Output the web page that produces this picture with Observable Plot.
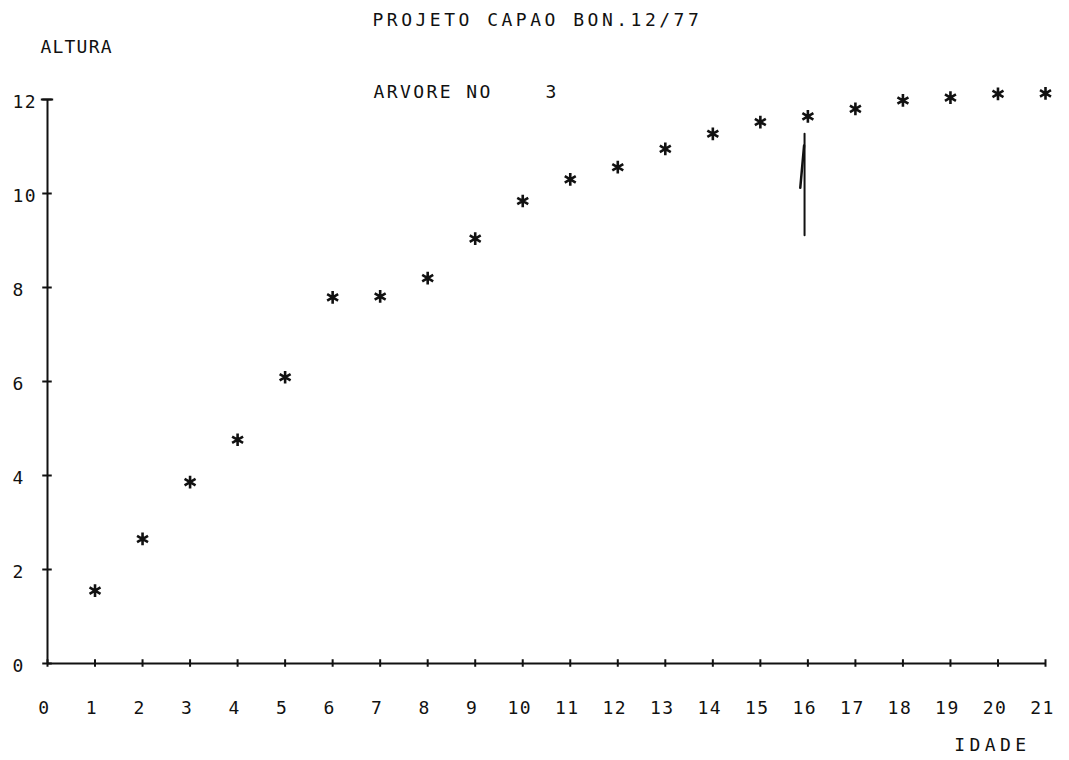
<!DOCTYPE html>
<html>
<head>
<meta charset="utf-8">
<script src="https://cdn.jsdelivr.net/npm/d3@7"></script>
<script src="https://cdn.jsdelivr.net/npm/@observablehq/plot@0.6"></script>
<style>
  html, body { margin: 0; padding: 0; background: #fff; }
  #chart svg { display: block; }
</style>
</head>
<body>
<div id="chart"></div>
<script>
// ---- data ----
const idade = [1, 2, 3, 4, 5, 6, 7, 8, 9, 10, 11, 12, 13, 14, 15, 16, 17, 18, 19, 20, 21];
const altura = [1.55, 2.65, 3.86, 4.76, 6.09, 7.79, 7.81, 8.20, 9.04, 9.84, 10.30, 10.56,
                10.95, 11.27, 11.52, 11.64, 11.80, 11.98, 12.04, 12.12, 12.13];
const xTicks = [0, 1, 2, 3, 4, 5, 6, 7, 8, 9, 10, 11, 12, 13, 14, 15, 16, 17, 18, 19, 20, 21];
const yTicks = [0, 2, 4, 6, 8, 10, 12];
// hand-drawn arrow near age 16 (shaft and half barb)
const arrowShaftX = [15.93, 15.93];
const arrowShaftY = [9.11, 11.27];
const arrowBarbX = [15.84, 15.92];
const arrowBarbY = [10.12, 11.02];
const titleText = "PROJETO CAPAO BON.12/77";
const subtitleText = "ARVORE NO\u00a0\u00a0\u00a0\u00a03";
const yLabelText = "ALTURA";
const xLabelText = "IDADE";

const points = idade.map((x, i) => ({x, y: altura[i]}));
const font = "'DejaVu Sans Mono', 'Liberation Mono', monospace";

const chart = Plot.plot({
  width: 1069,
  height: 760,
  marginLeft: 47,
  marginRight: 24,
  marginTop: 99,
  marginBottom: 97,
  style: {background: "#fff", color: "#111", fontFamily: font},
  x: {domain: [0, 21], axis: null},
  y: {domain: [0, 12], axis: null},
  marks: [
    // axis lines
    Plot.ruleY([0], {stroke: "#111", strokeWidth: 2}),
    Plot.ruleX([0], {stroke: "#111", strokeWidth: 2}),
    // crossing ticks
    Plot.ruleX(xTicks, {x: d => d, y1: -0.08, y2: 0.08, stroke: "#111", strokeWidth: 2}),
    Plot.ruleY(yTicks, {y: d => d, x1: -0.1, x2: 0.1, stroke: "#111", strokeWidth: 2}),
    Plot.ruleY([12], {x1: -0.13, x2: 0.13, stroke: "#111", strokeWidth: 2}),
    // tick labels
    Plot.text(xTicks, {x: d => d, text: d => String(d), frameAnchor: "bottom", dx: -3, dy: 50,
      fontSize: 18, fontFamily: font, fill: "#111"}),
    Plot.text(yTicks, {y: d => d, text: d => String(d), frameAnchor: "left", dx: -35, dy: 3,
      textAnchor: "start", fontSize: 18, fontFamily: font, fill: "#111"}),
    // data points
    Plot.dot(points, {x: "x", y: "y", symbol: "asterisk", r: 6, stroke: "#111", strokeWidth: 2.6}),
    // arrow
    Plot.line(arrowShaftX.map((x, i) => ({x, y: arrowShaftY[i]})), {x: "x", y: "y", stroke: "#111", strokeWidth: 2}),
    Plot.line(arrowBarbX.map((x, i) => ({x, y: arrowBarbY[i]})), {x: "x", y: "y", stroke: "#111", strokeWidth: 2.5}),
    // titles / labels
    Plot.text([titleText], {text: d => d, frameAnchor: "top-left", dx: 325, dy: -86,
      textAnchor: "start", fontSize: 18, fontFamily: font, fill: "#111"}),
    Plot.text([subtitleText], {text: d => d, frameAnchor: "top-left", dx: 326, dy: -14,
      textAnchor: "start", fontSize: 18, fontFamily: font, fill: "#111"}),
    Plot.text([yLabelText], {text: d => d, frameAnchor: "top-left", dx: -7, dy: -59,
      textAnchor: "start", fontSize: 18, fontFamily: font, fill: "#111"}),
    Plot.text([xLabelText], {text: d => d, frameAnchor: "bottom-right", dx: -15, dy: 87,
      textAnchor: "end", fontSize: 18, fontFamily: font, fill: "#111"})
  ]
});
// plotter-like wide letter spacing (text groups in mark order)
const spacing = [1.5, 1.5, 3.5, 2.4, 1.2, 4.4];
const textGroups = chart.querySelectorAll('g[aria-label="text"]');
textGroups.forEach((g, i) => {
  const ls = spacing[i] ?? 0;
  g.style.letterSpacing = ls + "px";
  g.querySelectorAll("text").forEach(t => { t.style.letterSpacing = ls + "px"; });
});
document.getElementById("chart").appendChild(chart);
</script>
</body>
</html>
